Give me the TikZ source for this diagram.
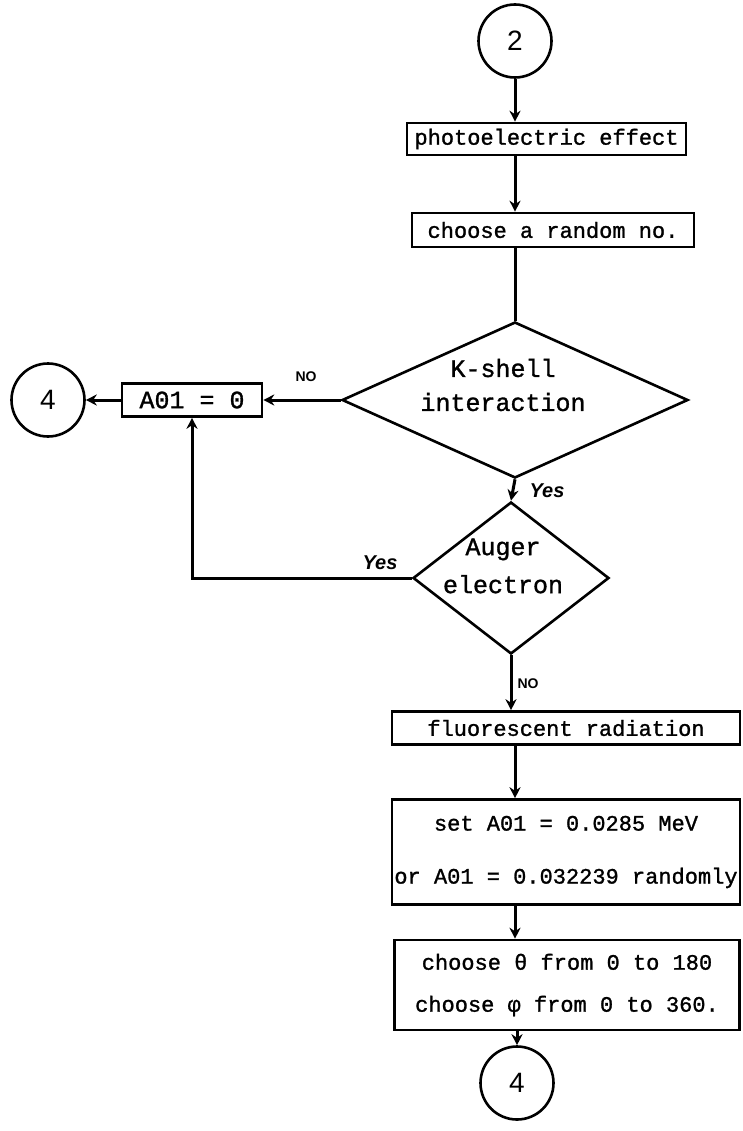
\documentclass[tikz,border=0pt]{standalone}
\usepackage{fontspec}
\setmonofont{Liberation Mono}[FakeBold=1.2]
\newfontfamily\handfont{Liberation Sans}
\usetikzlibrary{shapes.geometric,arrows.meta}
\begin{document}
\begin{tikzpicture}[x=1pt,y=1pt,line width=3pt,
  every node/.style={font=\ttfamily\fontsize{22}{26}\selectfont},
  big/.style={font=\ttfamily\fontsize{25}{28}\selectfont},
  box/.style={draw,rectangle,inner sep=0pt,line width=2.6pt,align=center},
  conn/.style={circle,draw,minimum size=73pt,inner sep=0pt,line width=2.6pt,font=\handfont\fontsize{28}{30}\selectfont},
  dec/.style={diamond,draw,inner sep=0pt,line width=2.6pt},
  dectext/.style={big,align=center,inner sep=0pt},
  arr/.style={-{Stealth[length=11pt,width=11pt]}},
  lblno/.style={font=\handfont\bfseries\fontsize{14}{16}\selectfont},
  lblyes/.style={font=\handfont\bfseries\itshape\fontsize{20}{22}\selectfont}]
\useasboundingbox (0,0) rectangle (742,-1131);

\node[conn] (c2) at (515,-41) {2};
\node[box,minimum width=279pt,minimum height=32pt] (pe) at (546.5,-139) {photoelectric effect};
\node[box,minimum width=282pt,minimum height=34pt] (rn) at (553,-230) {choose a random no.};
\node[dec,minimum width=346pt,minimum height=156pt,aspect=2.2] (k) at (515,-400) {};
\node[dectext] (kt) at (503,-385) {K-shell\\[6pt]interaction};
\node[box,big,minimum width=140pt,minimum height=33pt] (a01) at (192,-400) {A01 = 0};
\node[conn] (c4l) at (48,-400) {4};
\node[dec,minimum width=196pt,minimum height=152pt,aspect=1.3] (au) at (511,-578) {};
\node[dectext] (at) at (503,-566) {Auger\\[10pt]electron};
\node[box,minimum width=348pt,minimum height=33pt] (fl) at (566,-728) {fluorescent radiation};
\node[box,minimum width=348pt,minimum height=105pt] (set) at (566,-852) {set A01 = 0.0285 MeV\\[27pt]or A01 = 0.032239 randomly};
\node[box,minimum width=345pt,minimum height=90pt] (ch) at (567,-985) {choose θ from 0 to 180\\[16pt]choose φ from 0 to 360.};
\node[conn] (c4b) at (517,-1083) {4};

\node[lblno] (no1) at (306,-377) {NO};
\node[lblyes] (yes1) at (547,-491) {Yes};
\node[lblyes] (yes2) at (380,-563) {Yes};
\node[lblno] (no2) at (528,-684) {NO};

\draw[arr] (c2) -- (pe.north -| c2);
\draw[arr] (pe.south -| c2) -- (rn.north -| c2);
\draw (rn.south -| c2) -- (k.north);
\draw[arr] (k.west) -- (a01.east);
\draw[arr] (a01.west) -- (c4l.east);
\draw[arr] (k.south) -- (au.north);
\draw[arr] (au.west) -| (a01.south);
\draw[arr] (au.south) -- (fl.north -| au.south);
\draw[arr] (fl.south -| c2) -- (set.north -| c2);
\draw[arr] (set.south -| c2) -- (ch.north -| c2);
\draw[arr] (ch.south -| c4b) -- (c4b.north);
\end{tikzpicture}
\end{document}
